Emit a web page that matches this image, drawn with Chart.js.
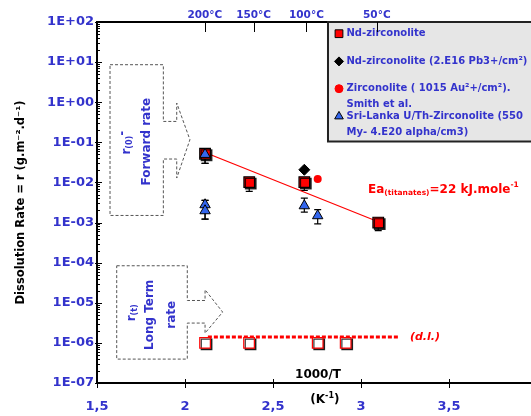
<!DOCTYPE html>
<html>
<head>
<meta charset="utf-8">
<script src="https://cdn.jsdelivr.net/npm/chart.js@4.4.0/dist/chart.umd.min.js"></script>
<style>
html, body { margin: 0; padding: 0; background: #fff; overflow: hidden; }
#wrap { width: 531px; height: 416px; }
</style>
</head>
<body>
<div id="wrap"><canvas id="chart"></canvas></div>
<script>
// values (x = 1000/T, y = rate)
var ndX = [2.114, 2.365, 2.678, 3.098];
var ndY = [0.052, 0.0102, 0.0102, 0.0010];
var ndLow = [0.030, 0.0060, 0.0063, 0.00063];
var ndHigh = [0.060, 0.012, 0.012, 0.0013];

var pbX = [2.678];
var pbY = [0.0207];

var auX = [2.754];
var auY = [0.0122];

var lankaX = [2.114, 2.114, 2.114, 2.678, 2.754];
var lankaY = [0.050, 0.00278, 0.00197, 0.00262, 0.00148];
var lankaLow = [0.030, 0.00122, 0.00122, 0.00183, 0.00093];
var lankaHigh = [0.058, 0.00356, 0.00356, 0.00408, 0.00209];

var longX = [2.114, 2.364, 2.754, 2.913];
var longY = [1e-6, 1e-6, 1e-6, 1e-6];

var fitX = [2.114, 3.098];
var fitY = [0.056, 0.00105];

var dlX = [2.13, 3.21];
var dlY = [1.4e-6, 1.4e-6];

var xTicks = [1.5, 2, 2.5, 3, 3.5];
var yTicks = [1e-7, 1e-6, 1e-5, 1e-4, 1e-3, 1e-2, 1e-1, 1, 10, 100];
var tempLabels = ['200°C', '150°C', '100°C', '50°C'];
var tempX = [2.113, 2.39, 2.69, 3.09];

var BLUE = '#3333cc';
var FONT = "'DejaVu Sans', sans-serif";

function pts(xs, ys) {
    return xs.map(function (x, i) { return {x: x, y: ys[i]}; });
}

function sciLabel(v) {
    var e = Math.round(Math.log10(v));
    var s = e < 0 ? '-' : '+';
    var a = Math.abs(e);
    return '1E' + s + (a < 10 ? '0' : '') + a;
}

// draws a run of text pieces (for sub/superscripts)
function rich(ctx, parts, x, y, align, color) {
    var w = 0;
    parts.forEach(function (p) { ctx.font = p.f; w += ctx.measureText(p.t).width; });
    var cx = align === 'center' ? x - w / 2 : x;
    ctx.textAlign = 'left';
    ctx.textBaseline = 'middle';
    ctx.fillStyle = color;
    parts.forEach(function (p) {
        ctx.font = p.f;
        ctx.fillText(p.t, cx, y + (p.dy || 0));
        cx += ctx.measureText(p.t).width;
    });
}

function richRot(ctx, parts, x, y, color) {
    ctx.save();
    ctx.translate(x, y);
    ctx.rotate(-Math.PI / 2);
    rich(ctx, parts, 0, 0, 'center', color);
    ctx.restore();
}

var decor = {
    id: 'decor',
    beforeDatasetDraw: function (chart, args) {
        var ds = chart.data.datasets[args.index];
        if (ds.shadow) {
            chart.ctx.save();
            chart.ctx.shadowColor = 'rgba(0,0,0,0.8)';
            chart.ctx.shadowOffsetX = 1.5;
            chart.ctx.shadowOffsetY = 1.5;
            chart.ctx.shadowBlur = 0;
        }
    },
    afterDatasetDraw: function (chart, args) {
        if (chart.data.datasets[args.index].shadow) chart.ctx.restore();
    },
    beforeDatasetsDraw: function (chart) {
        // error bars under the markers
        var ctx = chart.ctx, xs = chart.scales.x, ys = chart.scales.y;
        ctx.save();
        ctx.strokeStyle = '#000';
        ctx.lineWidth = 1.2;
        chart.data.datasets.forEach(function (ds) {
            if (!ds.errLow) return;
            ds.data.forEach(function (p, i) {
                var x = xs.getPixelForValue(p.x);
                var y1 = ys.getPixelForValue(ds.errLow[i]);
                var y2 = ys.getPixelForValue(ds.errHigh[i]);
                ctx.beginPath();
                ctx.moveTo(x, y1); ctx.lineTo(x, y2);
                ctx.moveTo(x - 3.5, y1); ctx.lineTo(x + 3.5, y1);
                ctx.moveTo(x - 3.5, y2); ctx.lineTo(x + 3.5, y2);
                ctx.stroke();
            });
        });
        ctx.restore();
    },
    afterDraw: function (chart) {
        var ctx = chart.ctx, xs = chart.scales.x, ys = chart.scales.y;
        var area = chart.chartArea;
        function P(xv, ly) { return [xs.getPixelForValue(xv), ys.getPixelForValue(Math.pow(10, ly))]; }

        ctx.save();
        // tick marks on the axes (inside)
        ctx.strokeStyle = '#000';
        ctx.lineWidth = 1;
        yTicks.forEach(function (v, k) {
            var y = Math.round(ys.getPixelForValue(v)) + 0.5;
            ctx.beginPath();
            ctx.moveTo(area.left - 2, y); ctx.lineTo(area.left + 5, y);
            ctx.stroke();
            if (k === yTicks.length - 1) return;
            for (var m = 2; m <= 9; m++) {
                var ym = Math.round(ys.getPixelForValue(v * m)) + 0.5;
                ctx.beginPath();
                ctx.moveTo(area.left, ym); ctx.lineTo(area.left + 3, ym);
                ctx.stroke();
            }
        });
        xTicks.forEach(function (v) {
            var x = Math.round(xs.getPixelForValue(v)) + 0.5;
            ctx.beginPath();
            ctx.moveTo(x, area.bottom - 4); ctx.lineTo(x, area.bottom + 5);
            ctx.stroke();
        });

        // forward rate / long term boxes with arrows
        ctx.strokeStyle = '#555';
        ctx.setLineDash([3, 2]);
        ctx.lineWidth = 1;
        var fwd = [[1.574, 0.935], [1.877, 0.935], [1.877, -0.479], [1.953, -0.479], [1.953, -0.02],
            [2.028, -0.935], [1.953, -1.89], [1.953, -1.416], [1.877, -1.416], [1.877, -2.823], [1.574, -2.823]];
        var lng = [[1.612, -4.077], [2.013, -4.077], [2.013, -4.943], [2.114, -4.943], [2.114, -4.676],
            [2.214, -5.232], [2.114, -5.756], [2.114, -5.506], [2.013, -5.506], [2.013, -6.404], [1.612, -6.404]];
        [fwd, lng].forEach(function (shape) {
            ctx.beginPath();
            shape.forEach(function (q, i) {
                var p = P(q[0], q[1]);
                if (i === 0) ctx.moveTo(p[0], p[1]); else ctx.lineTo(p[0], p[1]);
            });
            ctx.closePath();
            ctx.stroke();
        });
        ctx.setLineDash([]);

        var b12 = 'bold 12px ' + FONT, b8 = 'bold 8px ' + FONT;
        var p = P(1.670, -1.01);
        richRot(ctx, [{t: 'r', f: b12}, {t: '(0)', f: b8, dy: 3}, {t: '-', f: b12, dy: -4}], p[0], p[1], BLUE);
        p = P(1.784, -0.985);
        richRot(ctx, [{t: 'Forward rate', f: b12}], p[0], p[1], BLUE);
        p = P(1.699, -5.25);
        richRot(ctx, [{t: 'r', f: b12}, {t: '(t)', f: b8, dy: 3}], p[0], p[1], BLUE);
        p = P(1.801, -5.30);
        richRot(ctx, [{t: 'Long Term', f: b12}], p[0], p[1], BLUE);
        p = P(1.924, -5.30);
        richRot(ctx, [{t: 'rate', f: b12}], p[0], p[1], BLUE);

        // activation energy and detection limit labels
        p = P(3.040, -2.18);
        rich(ctx, [{t: 'Ea', f: 'bold 12px ' + FONT}, {t: '(titanates)', f: 'bold 7.5px ' + FONT, dy: 3},
            {t: '=22 kJ.mole', f: 'bold 12px ' + FONT}, {t: '-1', f: 'bold 7.5px ' + FONT, dy: -5}], p[0], p[1], 'left', '#ff0000');
        p = P(3.278, -5.86);
        rich(ctx, [{t: '(d.l.)', f: 'italic bold 11px ' + FONT}], p[0], p[1], 'left', '#ff0000');

        // axis captions
        p = P(2.756, -6.795);
        rich(ctx, [{t: '1000/T', f: b12}], p[0], p[1], 'center', '#000');
        rich(ctx, [{t: '(K', f: b12}, {t: '-1', f: b8, dy: -4}, {t: ')', f: b12}], xs.getPixelForValue(2.795), area.bottom + 17, 'center', '#000');

        // legend box
        var lx = xs.getPixelForValue(2.8125);
        ctx.fillStyle = '#e6e6e6';
        ctx.fillRect(lx, area.top, chart.width - lx, 119.5);
        ctx.strokeStyle = '#222';
        ctx.lineWidth = 2;
        ctx.strokeRect(lx, area.top, chart.width - lx + 5, 119.5);
        var mx = lx + 11, tx = lx + 18.5, t0 = area.top;
        var lf = 'bold 10px ' + FONT;
        var items = [
            {ds: 3, r: 5.5, dy: 11.7, lines: ['Nd-zirconolite']},
            {ds: 1, r: 4.5, dy: 39.4, lines: ['Nd-zirconolite (2.E16 Pb3+/cm²)']},
            {ds: 2, r: 4, dy: 66.7, lines: ['Zirconolite ( 1015 Au²+/cm²).', 'Smith et al.']},
            {ds: 0, r: 5, dy: 94.4, lines: ['Sri-Lanka U/Th-Zirconolite (550', 'My- 4.E20 alpha/cm3)']}
        ];
        items.forEach(function (it) {
            var ds = chart.data.datasets[it.ds];
            ctx.fillStyle = ds.backgroundColor;
            ctx.strokeStyle = ds.borderColor;
            ctx.lineWidth = 1;
            Chart.helpers.drawPoint(ctx, {pointStyle: ds.pointStyle, radius: it.r, rotation: 0, borderWidth: 1}, mx, t0 + it.dy);
        });
        rich(ctx, [{t: items[0].lines[0], f: lf}], tx, t0 + 11.7, 'left', BLUE);
        rich(ctx, [{t: items[1].lines[0], f: lf}], tx, t0 + 39.4, 'left', BLUE);
        rich(ctx, [{t: items[2].lines[0], f: lf}], tx, t0 + 66.7, 'left', BLUE);
        rich(ctx, [{t: items[2].lines[1], f: lf}], tx, t0 + 82.7, 'left', BLUE);
        rich(ctx, [{t: items[3].lines[0], f: lf}], tx, t0 + 94.4, 'left', BLUE);
        rich(ctx, [{t: items[3].lines[1], f: lf}], tx, t0 + 110, 'left', BLUE);

        // temperature ticks on the top axis
        ctx.strokeStyle = '#000';
        ctx.lineWidth = 1;
        tempX.forEach(function (v) {
            var x = Math.round(xs.getPixelForValue(v)) + 0.5;
            ctx.beginPath();
            ctx.moveTo(x, area.top); ctx.lineTo(x, area.top + 10);
            ctx.stroke();
        });
        ctx.restore();
    }
};

var ctx = document.getElementById('chart').getContext('2d');
var chart = new Chart(ctx, {
    type: 'scatter',
    data: {
        datasets: [{
            label: 'Sri-Lanka U/Th-Zirconolite (550 My- 4.E20 alpha/cm3)',
            data: pts(lankaX, lankaY),
            errLow: lankaLow, errHigh: lankaHigh,
            pointStyle: 'triangle', pointRadius: 6, pointHoverRadius: 6,
            backgroundColor: '#3366ee', borderColor: '#000', borderWidth: 1
        }, {
            label: 'Nd-zirconolite (2.E16 Pb3+/cm²)',
            data: pts(pbX, pbY),
            pointStyle: 'rectRot', pointRadius: 5.5, pointHoverRadius: 5.5,
            backgroundColor: '#000', borderColor: '#000', borderWidth: 1
        }, {
            label: 'Zirconolite ( 1015 Au²+/cm²). Smith et al.',
            data: pts(auX, auY),
            pointStyle: 'circle', pointRadius: 4, pointHoverRadius: 4,
            backgroundColor: '#ff0000', borderColor: '#ff0000', borderWidth: 0
        }, {
            label: 'Nd-zirconolite',
            data: pts(ndX, ndY),
            errLow: ndLow, errHigh: ndHigh,
            shadow: true,
            pointStyle: 'rect', pointRadius: 7.5, pointHoverRadius: 7.5,
            backgroundColor: '#ff0000', borderColor: '#000', borderWidth: 1.2
        }, {
            label: 'Long term',
            data: pts(longX, longY),
            shadow: true,
            pointStyle: 'rect', pointRadius: 7.5, pointHoverRadius: 7.5,
            backgroundColor: '#ffffff', borderColor: '#ff0000', borderWidth: 1.2
        }, {
            label: 'fit',
            data: pts(fitX, fitY),
            showLine: true, pointRadius: 0,
            borderColor: '#ff0000', borderWidth: 1.2
        }, {
            label: 'd.l.',
            data: pts(dlX, dlY),
            showLine: true, pointRadius: 0,
            borderColor: '#ff0000', borderWidth: 3, borderDash: [4, 2]
        }]
    },
    options: {
        responsive: true,
        maintainAspectRatio: false,
        animation: false,
        layout: {autoPadding: false, padding: {left: 10, right: 0, top: 0, bottom: 0}},
        plugins: {legend: {display: false}, tooltip: {enabled: false}},
        scales: {
            x: {
                type: 'linear', min: 1.5, max: 3.966,
                afterBuildTicks: function (s) { s.ticks = xTicks.map(function (v) { return {value: v}; }); },
                afterFit: function (s) { s.height = 33; },
                ticks: {
                    autoSkip: false, padding: 16, color: BLUE,
                    font: {family: FONT, size: 13, weight: 'bold'},
                    callback: function (v) { return String(v).replace('.', ','); }
                },
                grid: {drawOnChartArea: false, drawTicks: false},
                border: {display: true, color: '#000', width: 2}
            },
            x2: {
                type: 'linear', position: 'top', min: 1.5, max: 3.966,
                afterBuildTicks: function (s) { s.ticks = tempX.map(function (v) { return {value: v}; }); },
                afterFit: function (s) { s.height = 22; },
                ticks: {
                    autoSkip: false, padding: 0, color: BLUE, maxRotation: 0,
                    font: {family: FONT, size: 10.5, weight: 'bold'},
                    callback: function (v, i) { return tempLabels[i]; }
                },
                grid: {drawOnChartArea: false, drawTicks: false},
                border: {display: true, color: '#000', width: 2}
            },
            y: {
                type: 'logarithmic', min: 1e-7, max: 100,
                afterBuildTicks: function (s) { s.ticks = yTicks.map(function (v) { return {value: v}; }); },
                afterFit: function (s) { s.width = 87; },
                ticks: {
                    autoSkip: false, padding: 3, color: BLUE,
                    font: {family: FONT, size: 13, weight: 'bold'},
                    callback: function (v) { return sciLabel(v); }
                },
                grid: {drawOnChartArea: false, drawTicks: false},
                border: {display: true, color: '#000', width: 2},
                title: {
                    display: true, text: 'Dissolution Rate = r (g.m⁻².d⁻¹)', color: '#000',
                    font: {family: FONT, size: 11.5, weight: 'bold'}
                }
            }
        }
    },
    plugins: [decor]
});
</script>
</body>
</html>
